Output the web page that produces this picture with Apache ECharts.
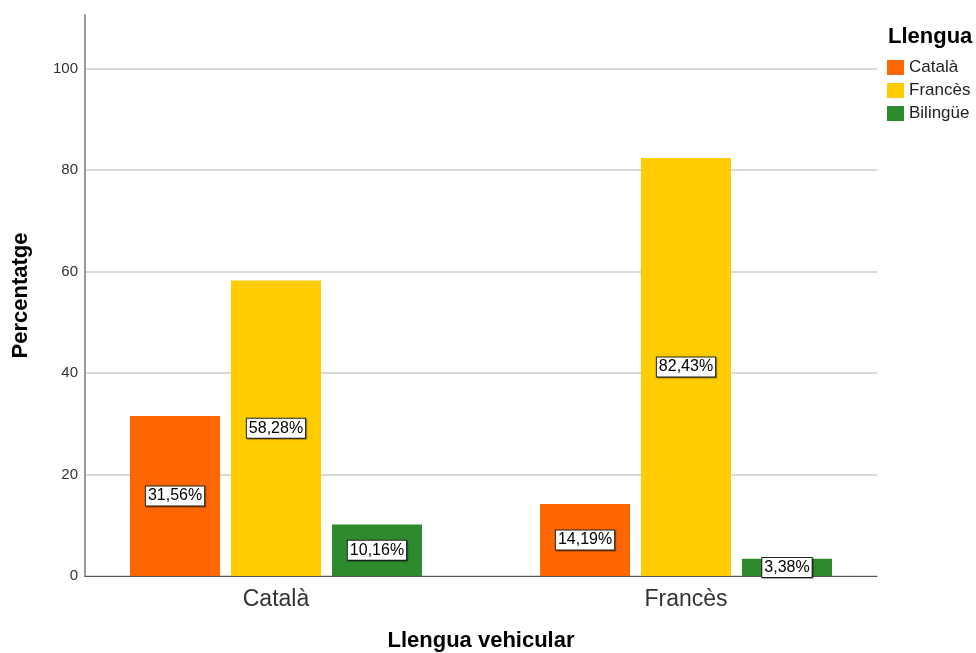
<!DOCTYPE html>
<html><head><meta charset="utf-8">
<script src="https://cdn.jsdelivr.net/npm/echarts@6/dist/echarts.min.js"></script>
<style>html,body{margin:0;padding:0;background:#fff}#c{width:976px;height:653px}</style>
</head><body><div id="c"></div>
<script>
const categories = ['Català', 'Francès'];
const seriesNames = ['Català', 'Francès', 'Bilingüe'];
const valCatala = [31.56, 14.19];
const valFrances = [58.28, 82.43];
const valBilingue = [10.16, 3.38];
const yTicks = [0, 20, 40, 60, 80, 100];
const colors = ['#FF6600', '#FFCC00', '#2D8A2D'];
const FONT = '"Liberation Sans", Arial, sans-serif';

const chart = echarts.init(document.getElementById('c'));
const fmt = v => v.toFixed(2).replace('.', ',') + '%';
const labelCfg = {
  show: true, position: 'inside',
  formatter: p => fmt(p.value),
  fontFamily: FONT, fontSize: 16, color: '#000',
  backgroundColor: '#fff', borderColor: '#222', borderWidth: 1,
  padding: [2, 2, 1, 2],
  shadowColor: 'rgba(0,0,0,0.35)', shadowOffsetX: 1, shadowOffsetY: 1, shadowBlur: 1
};
const data = [valCatala, valFrances, valBilingue];
chart.setOption({
  animation: false,
  textStyle: { fontFamily: FONT },
  title: { text: 'Llengua', left: 888, top: 26, padding: 0, textStyle: { fontFamily: FONT, fontSize: 22, fontWeight: 'bold', color: '#000' } },
  legend: {
    data: seriesNames, orient: 'vertical', left: 887, top: 59, padding: 0,
    itemWidth: 17, itemHeight: 15, itemGap: 6, icon: 'rect',
    textStyle: { fontFamily: FONT, fontSize: 17, lineHeight: 15, color: '#222', padding: [0, 0, 0, 0] }
  },
  grid: [
    { left: 85, right: 99, top: 15, bottom: 77, outerBoundsMode: 'none', containLabel: false },
    { left: 71, width: 820, top: 15, bottom: 77, outerBoundsMode: 'none', containLabel: false }
  ],
  xAxis: [
    { type: 'category', gridIndex: 0, data: categories, axisLine: { lineStyle: { color: '#555', width: 1 } }, axisTick: { show: false }, axisLabel: { show: false } },
    { type: 'category', gridIndex: 1, data: categories, axisLine: { show: false }, axisTick: { show: false },
      axisLabel: { fontFamily: FONT, fontSize: 23, color: '#333', margin: 12 },
      name: 'Llengua vehicular', nameLocation: 'middle', nameGap: 54,
      nameTextStyle: { fontFamily: FONT, fontSize: 22, fontWeight: 'bold', color: '#000' } }
  ],
  yAxis: [
    { type: 'value', gridIndex: 0, min: 0, max: 110.6, interval: 20,
      axisLine: { show: true, lineStyle: { color: '#999', width: 2 } }, axisTick: { show: false },
      axisLabel: { fontFamily: FONT, fontSize: 15, color: '#333', margin: 7, showMaxLabel: false,
        formatter: v => yTicks.includes(v) ? String(v) : '' },
      splitLine: { lineStyle: { color: ['#ccc','#ccc','#ccc','#ccc','#ccc','#ccc','rgba(0,0,0,0)'], width: 1.5 } },
      name: 'Percentatge', nameLocation: 'middle', nameGap: 53,
      nameTextStyle: { fontFamily: FONT, fontSize: 22, fontWeight: 'bold', color: '#000' } },
    { type: 'value', gridIndex: 1, min: 0, max: 110.6, show: false }
  ],
  series: seriesNames.map((n, i) => ({
    name: n, type: 'bar', xAxisIndex: 1, yAxisIndex: 1,
    data: data[i], barWidth: 90, barGap: '12.2%',
    itemStyle: { color: colors[i] },
    label: labelCfg
  }))
});
</script></body></html>
